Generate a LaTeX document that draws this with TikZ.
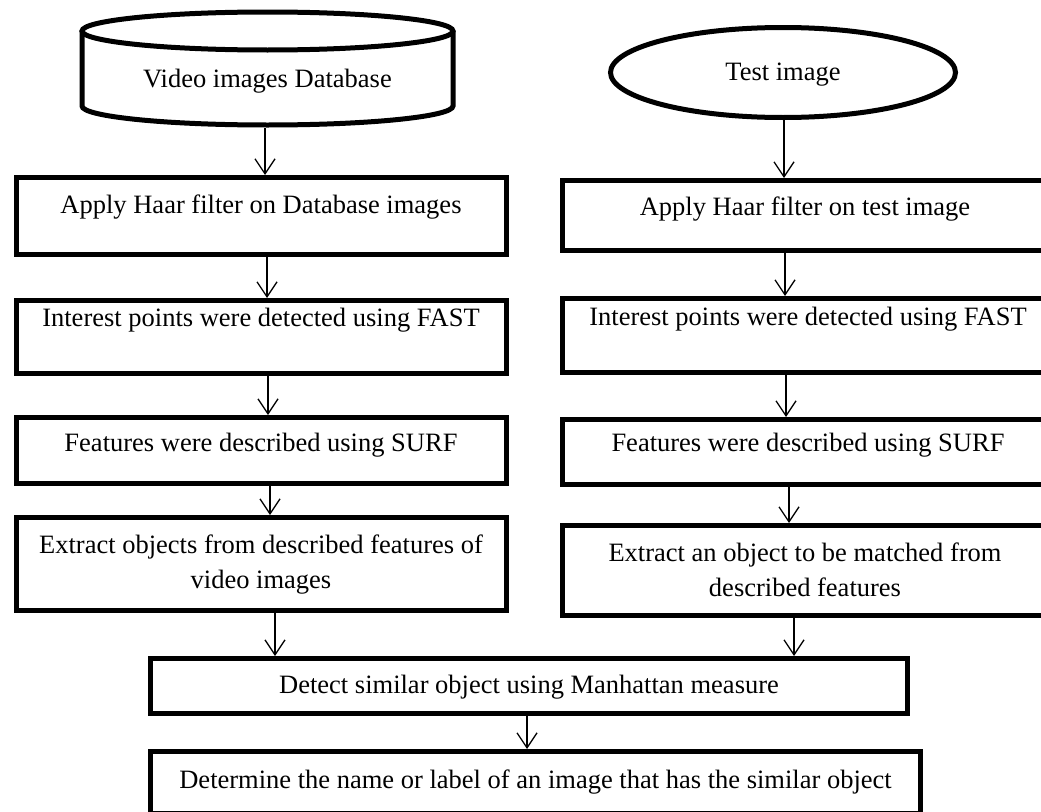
\documentclass[tikz,border=0pt]{standalone}
\usepackage{fontspec}
\setmainfont{Liberation Serif}
\usetikzlibrary{arrows.meta,shapes.geometric}
\tikzset{
  box/.style={draw, line width=5pt, rectangle, inner sep=0pt},
  txt/.style={font=\fontsize{26.5}{35}\selectfont, inner sep=0pt, anchor=base, align=center},
  arr/.style={-{Straight Barb[length=15pt,width=20pt,line width=1.3pt]}, line width=1.3pt},
  thick5/.style={line width=5pt}
}
\begin{document}
\begin{tikzpicture}[x=1pt,y=-1pt]
\useasboundingbox (0,0) rectangle (1041,811);
\clip (0,0) rectangle (1041,811);
% cylinder
\draw[thick5] (267.5,31) ellipse [x radius=185.5, y radius=19];
\draw[thick5] (82,31) -- (82,106) arc[start angle=180, end angle=0, x radius=185.5, y radius=19] -- (453,31);
\node[inner sep=0pt, minimum width=376pt, minimum height=120pt] (cyl) at (267.5,68) {};
\node[txt] (tcyl) at (267.5,87) {Video images Database};
% ellipse
\node[draw, thick5, ellipse, inner sep=0pt, minimum width=345pt, minimum height=90pt] (ell) at (783,72.5) {};
\node[txt] (tell) at (783,80) {Test image};
% left boxes
\node[box, minimum width=490pt, minimum height=77pt] (b1) at (261,216) {};
\node[box, minimum width=490pt, minimum height=73pt] (b2) at (261,337) {};
\node[box, minimum width=490pt, minimum height=66pt] (b3) at (261,450.5) {};
\node[box, minimum width=490pt, minimum height=93pt] (b4) at (261,564) {};
\node[txt] (t1) at (261,213) {Apply Haar filter on Database images};
\node[txt] (t2) at (261,326) {Interest points were detected using FAST};
\node[txt] (t3) at (261,451) {Features were described using SURF};
\node[txt] (t4) at (261,588) {Extract objects from described features of\\video images};
% right boxes
\node[box, minimum width=507.5pt, minimum height=70pt] (r1) at (816.25,215.5) {};
\node[box, minimum width=507.5pt, minimum height=74pt] (r2) at (816.25,335.5) {};
\node[box, minimum width=507.5pt, minimum height=65pt] (r3) at (816.25,452) {};
\node[box, minimum width=507.5pt, minimum height=90pt] (r4) at (816.25,570.5) {};
\node[txt] (s1) at (805,215) {Apply Haar filter on test image};
\node[txt] (s2) at (808,325) {Interest points were detected using FAST};
\node[txt] (s3) at (808,451) {Features were described using SURF};
\node[txt] (s4) at (805,596) {Extract an object to be matched from\\described features};
% bottom boxes
\node[box, minimum width=757pt, minimum height=55pt] (b5) at (529,686) {};
\node[box, minimum width=770pt, minimum height=61.5pt] (b6) at (535.5,782.25) {};
\node[txt] (t5) at (529,693) {Detect similar object using Manhattan measure};
\node[txt] (t6) at (535.5,788) {Determine the name or label of an image that has the similar object};
% arrow columns
\coordinate (a0) at (265,0);
\coordinate (a1) at (267,0);
\coordinate (a2) at (268,0);
\coordinate (a3) at (270,0);
\coordinate (a4) at (275,0);
\coordinate (q0) at (784,0);
\coordinate (q1) at (785,0);
\coordinate (q2) at (786,0);
\coordinate (q3) at (789,0);
\coordinate (q4) at (794,0);
\coordinate (m5) at (527,0);
% arrows
\draw[arr] (cyl.south -| a0) -- (b1.north -| a0);
\draw[arr] (b1.south -| a1) -- (b2.north -| a1);
\draw[arr] (b2.south -| a2) -- (b3.north -| a2);
\draw[arr] (b3.south -| a3) -- (b4.north -| a3);
\draw[arr] (b4.south -| a4) -- (b5.north -| a4);
\draw[arr] (ell.south -| q0) -- (r1.north -| q0);
\draw[arr] (r1.south -| q1) -- (r2.north -| q1);
\draw[arr] (r2.south -| q2) -- (r3.north -| q2);
\draw[arr] (r3.south -| q3) -- (r4.north -| q3);
\draw[arr] (r4.south -| q4) -- (b5.north -| q4);
\draw[arr] (b5.south -| m5) -- (b6.north -| m5);
\end{tikzpicture}
\end{document}
